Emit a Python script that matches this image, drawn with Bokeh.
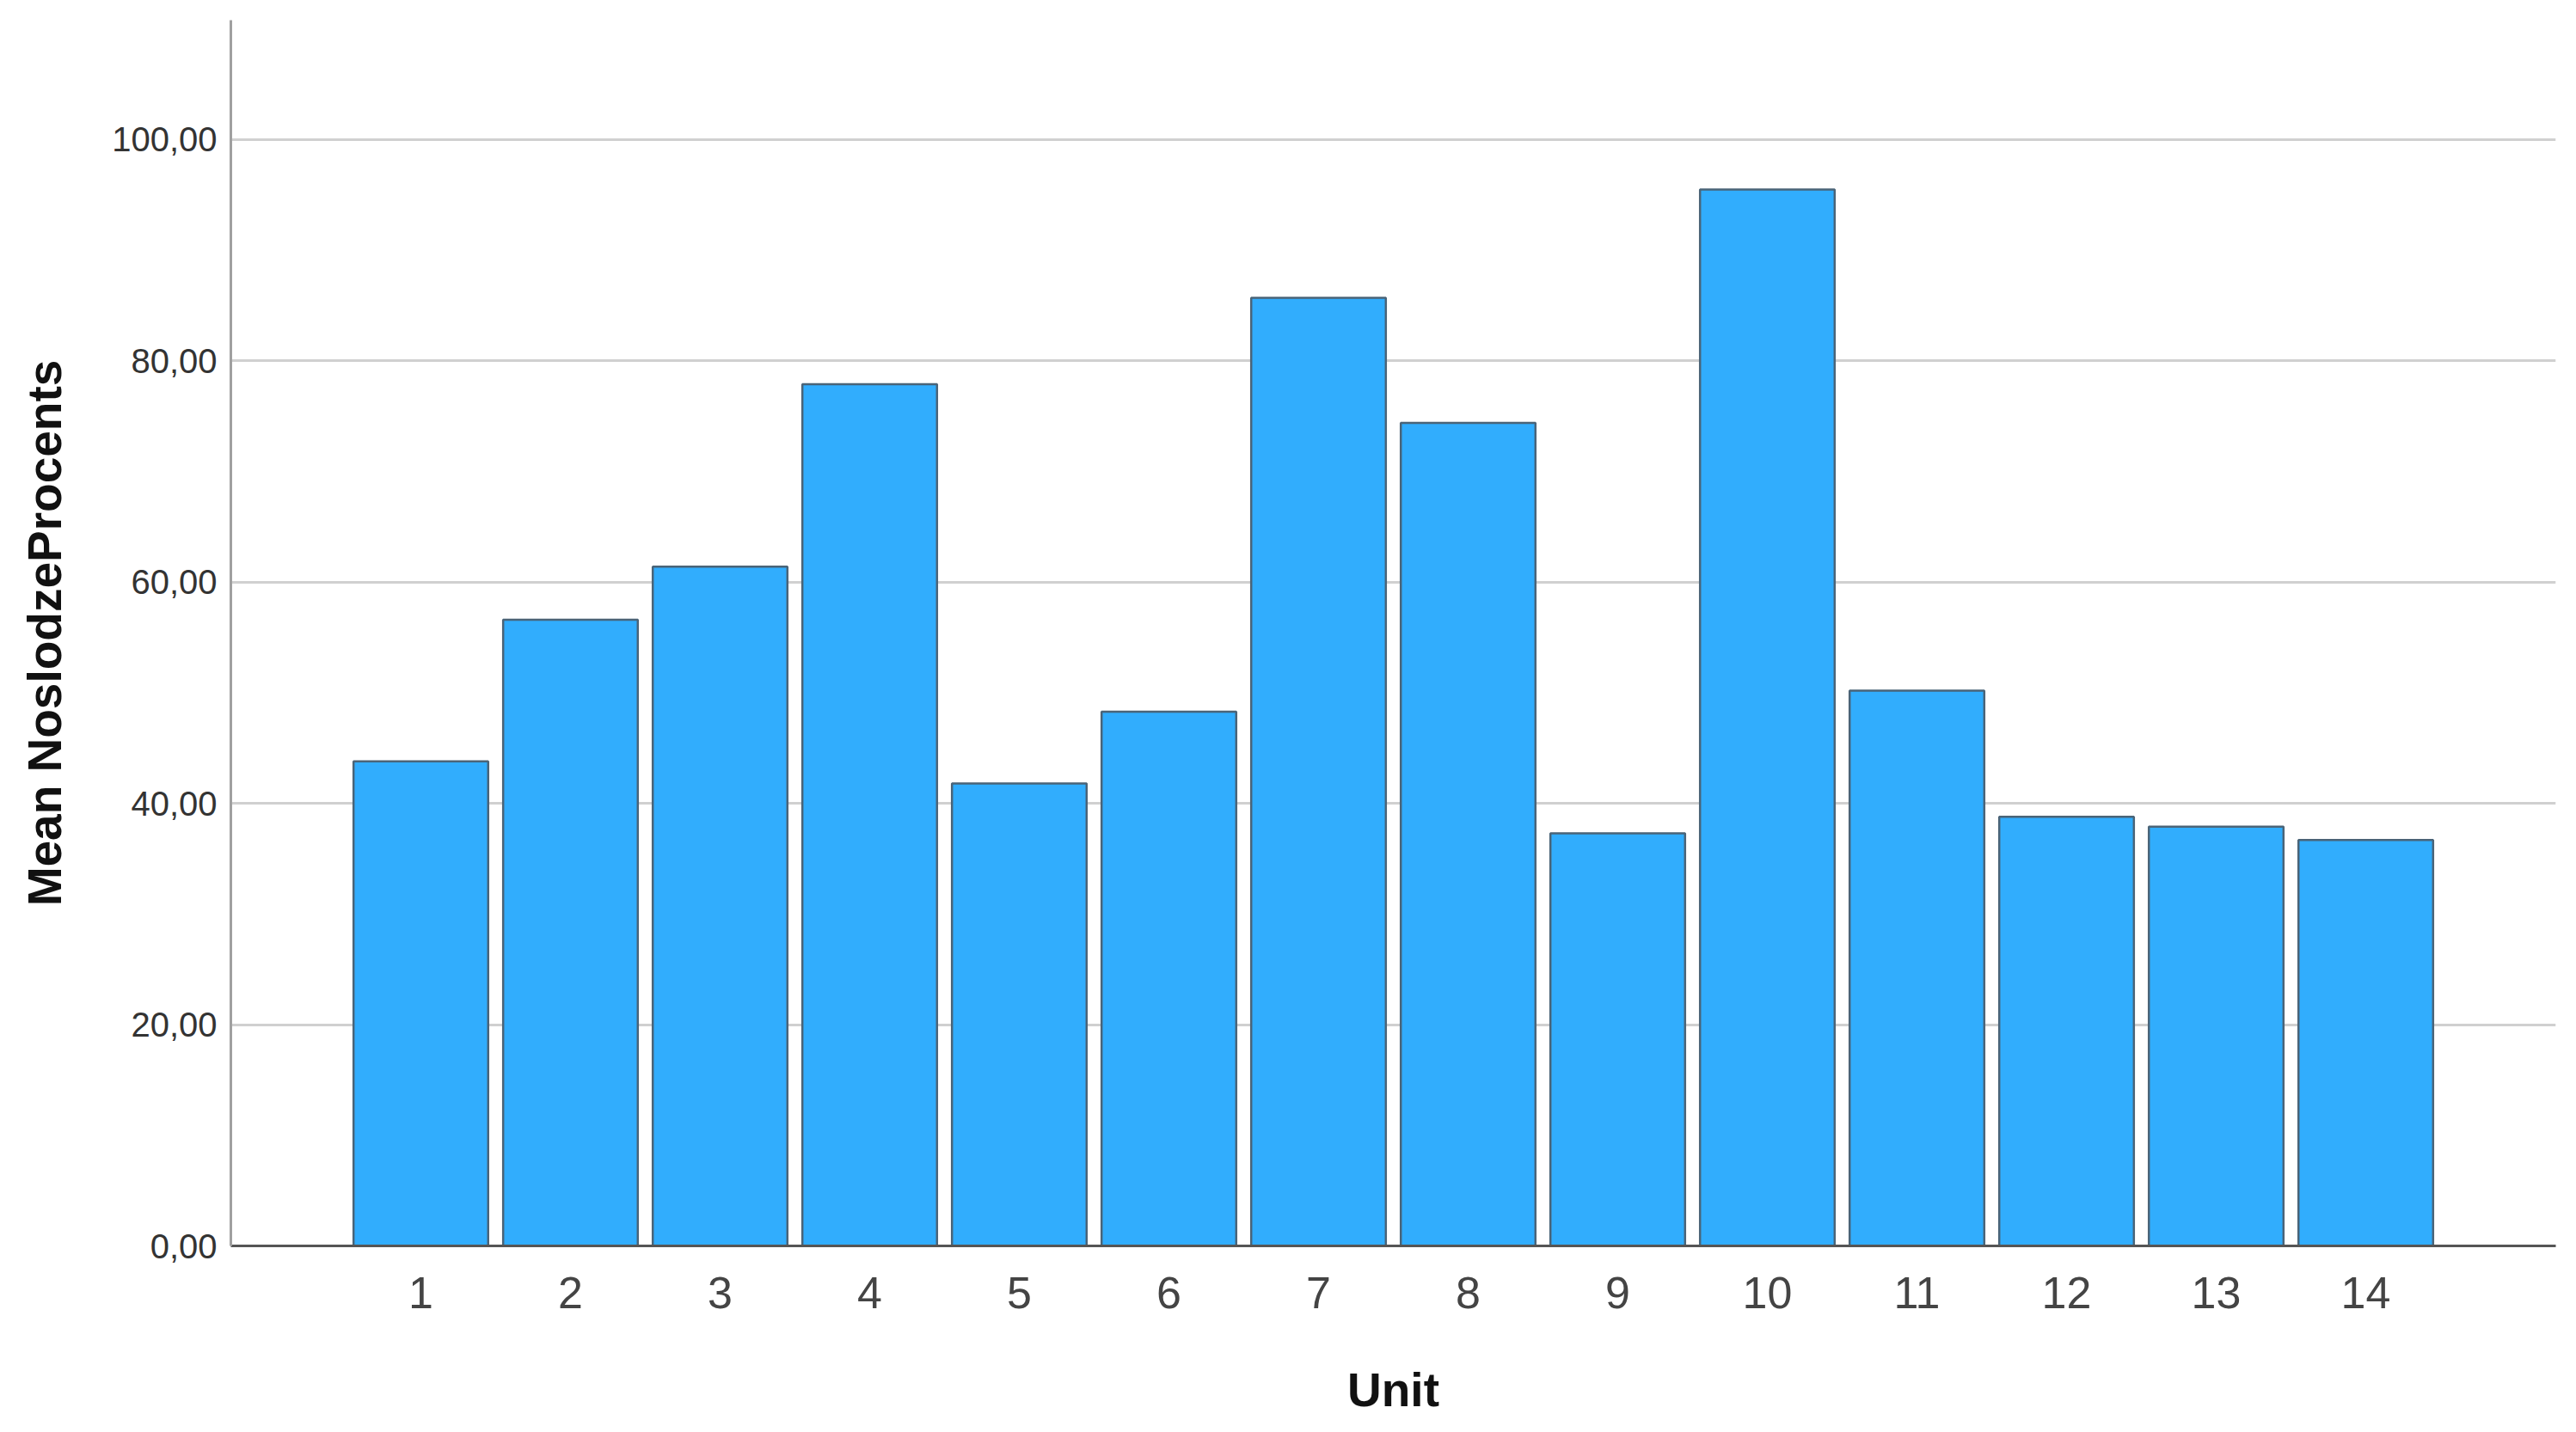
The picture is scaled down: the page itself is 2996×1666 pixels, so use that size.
from bokeh.plotting import figure
from bokeh.models import Range1d, FixedTicker
from bokeh.embed import file_html
from bokeh.resources import INLINE

# data
units = [1, 2, 3, 4, 5, 6, 7, 8, 9, 10, 11, 12, 13, 14]
mean_noslodze = [43.8, 56.6, 61.4, 77.9, 41.8, 48.3, 85.7, 74.4, 37.3, 95.5, 50.2, 38.8, 37.9, 36.7]
y_ticks = [0, 20, 40, 60, 80, 100]
y_tick_labels = ["0,00", "20,00", "40,00", "60,00", "80,00", "100,00"]

FONT = "Liberation Sans"

p = figure(width=2980, height=1650,
           x_range=Range1d(-0.27, 15.27),
           y_range=Range1d(0, 110.8),
           toolbar_location=None,
           output_backend="svg",
           min_border_left=268, min_border_right=8,
           min_border_top=23, min_border_bottom=10)
p.outline_line_color = None
p.background_fill_color = "white"

p.vbar(x=units, top=mean_noslodze, width=0.9, bottom=0,
       fill_color="#31adfd", line_color="#4a6478", line_width=2.5)

# y axis
p.yaxis.ticker = FixedTicker(ticks=y_ticks)
p.yaxis.major_label_overrides = {t: l for t, l in zip(y_ticks, y_tick_labels)}
p.yaxis.axis_label = "Mean NoslodzeProcents"
p.yaxis.axis_label_text_font = FONT
p.yaxis.axis_label_text_font_style = "bold"
p.yaxis.axis_label_text_font_size = "55px"
p.yaxis.axis_label_text_color = "#111111"
p.yaxis.axis_label_standoff = 44
p.yaxis.major_label_text_font = FONT
p.yaxis.major_label_text_font_size = "40px"
p.yaxis.major_label_text_color = "#333333"
p.yaxis.major_label_standoff = 10
p.yaxis.major_tick_line_color = None
p.yaxis.minor_tick_line_color = None
p.yaxis.axis_line_color = "#a0a0a0"
p.yaxis.axis_line_width = 3

# x axis
p.xaxis.ticker = FixedTicker(ticks=units)
p.xaxis.major_label_overrides = {u: str(u) for u in units}
p.xaxis.axis_label = "Unit"
p.xaxis.axis_label_text_font = FONT
p.xaxis.axis_label_text_font_style = "bold"
p.xaxis.axis_label_text_font_size = "55px"
p.xaxis.axis_label_text_color = "#111111"
p.xaxis.axis_label_standoff = 61
p.xaxis.major_label_text_font = FONT
p.xaxis.major_label_text_font_size = "52px"
p.xaxis.major_label_text_color = "#444444"
p.xaxis.major_label_standoff = 30
p.xaxis.major_tick_line_color = None
p.xaxis.minor_tick_line_color = None
p.xaxis.axis_line_color = "#555555"
p.xaxis.axis_line_width = 3

# grid
p.xgrid.grid_line_color = None
p.ygrid.ticker = FixedTicker(ticks=y_ticks[1:])
p.ygrid.grid_line_color = "#d0d0d0"
p.ygrid.grid_line_width = 3
p.ygrid.level = "underlay"

open("out.html", "w").write(file_html(p, INLINE))
